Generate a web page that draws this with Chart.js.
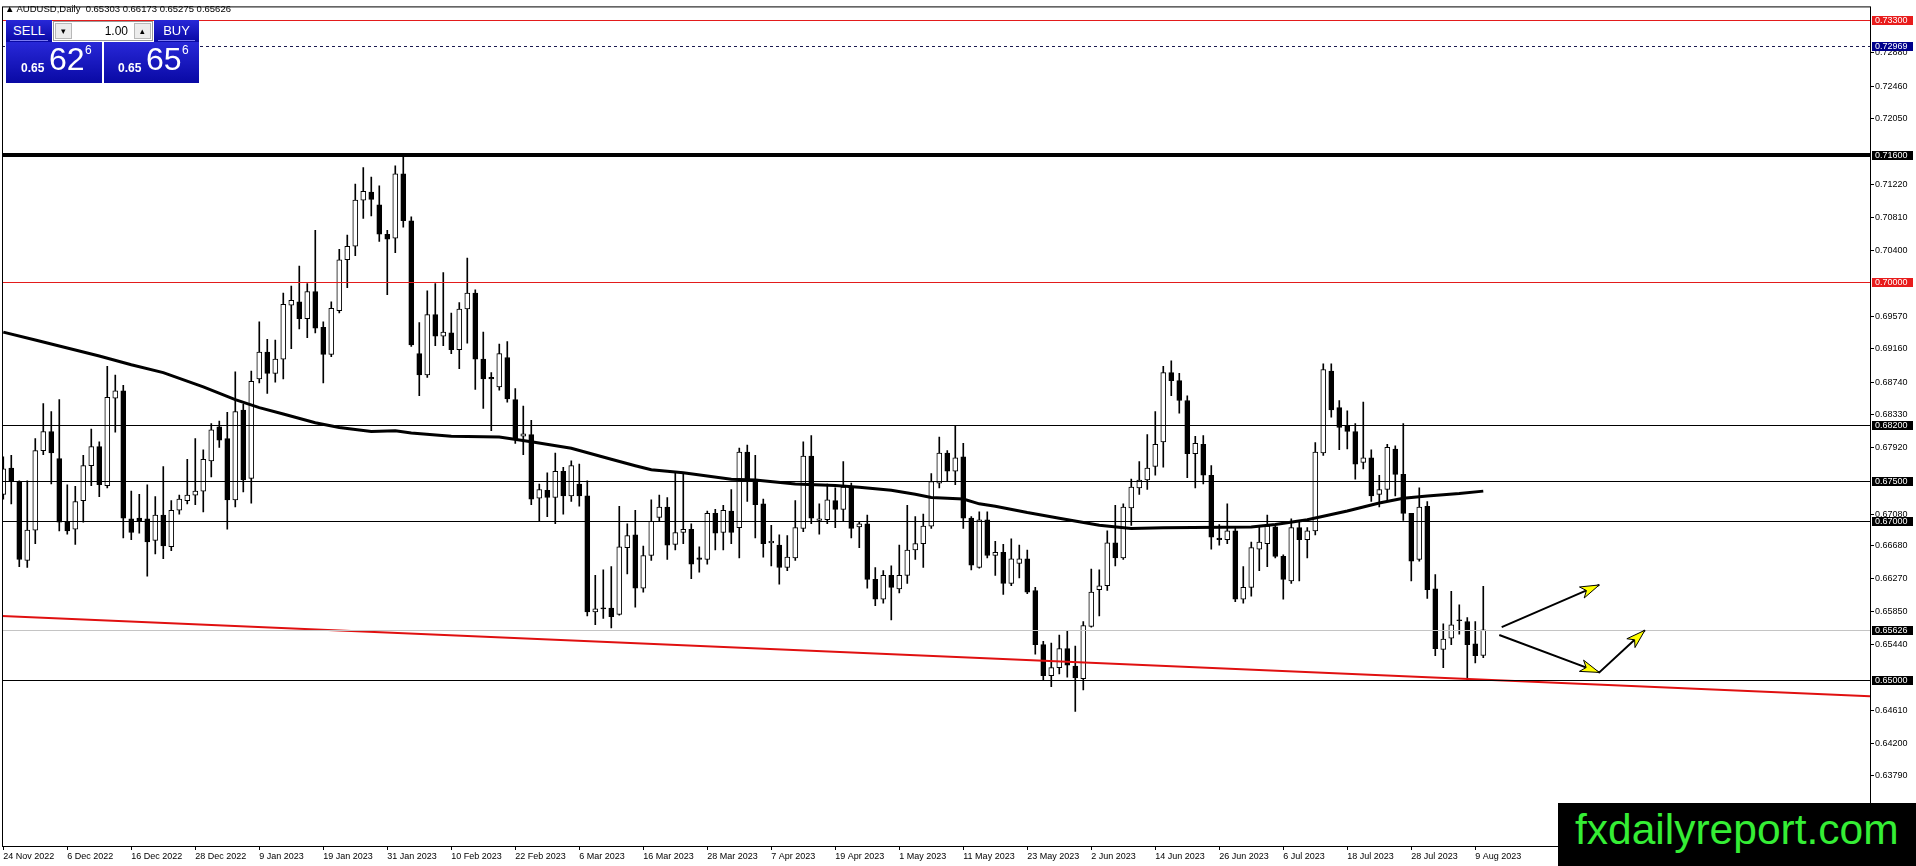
<!DOCTYPE html>
<html>
<head>
<meta charset="utf-8">
<title>AUDUSD Daily</title>
<script src="https://cdn.jsdelivr.net/npm/chart.js@4.4.0/dist/chart.umd.min.js"></script>
<style>
  html, body { margin: 0; padding: 0; background: #fff; overflow: hidden; }
  #wrap { position: relative; width: 1916px; height: 866px; font-family: 'Liberation Sans', Arial, sans-serif; }
  #c { position: absolute; left: 0; top: 0; }
  #title { position: absolute; left: 5px; top: 4px; font-size: 9.5px; line-height: 10px; white-space: pre; color: #000; }
  .blue { position: absolute; background: linear-gradient(#2828d8, #0909a4); color: #fff; }
  .btn { top: 20px; height: 22px; font-size: 13px; line-height: 21px; text-align: center; }
  .btn::after { content: ''; position: absolute; left: 4px; right: 4px; bottom: 1px; height: 1px; background: #7a7af2; }
  #lot { position: absolute; left: 53px; top: 21px; width: 100px; height: 20px; background: #fff; border: 1px solid #9a9a9a; box-sizing: border-box; }
  .arr { position: absolute; top: 1px; width: 17px; height: 16px; background: #ececec; border: 1px solid #b8b8b8; box-sizing: border-box; font-size: 9px; line-height: 14px; text-align: center; color: #000; }
  #lotv { position: absolute; right: 24px; top: 2px; font-size: 12px; line-height: 14px; color: #000; }
  .pbox { top: 42px; height: 41px; }
  .pbox span { position: absolute; white-space: pre; line-height: 1; }
  .s { font-weight: bold; font-size: 12px; top: 20px; }
  .b { font-size: 32px; top: 1px; }
  .t { font-size: 12px; top: 2px; }
  #mark { position: absolute; left: 1558px; top: 803px; width: 358px; height: 63px; background: #000; }
  #mark span { position: absolute; left: 17px; top: 6px; font-size: 42.5px; line-height: 1; color: #35ee35; white-space: pre; }
</style>
</head>
<body>
<div id="wrap">
  <canvas id="c" width="1916" height="866"></canvas>
  <div id="title">▲ AUDUSD,Daily  0.65303 0.66173 0.65275 0.65626</div>
  <div class="blue btn" style="left:6px;width:46px">SELL</div>
  <div id="lot"><div class="arr" style="left:1px">▾</div><span id="lotv">1.00</span><div class="arr" style="right:1px">▴</div></div>
  <div class="blue btn" style="left:154px;width:45px">BUY</div>
  <div class="blue pbox" style="left:6px;width:96px"><span class="s" style="left:15px">0.65</span><span class="b" style="left:43px">62</span><span class="t" style="left:79px">6</span></div>
  <div class="blue pbox" style="left:104px;width:95px"><span class="s" style="left:14px">0.65</span><span class="b" style="left:42px">65</span><span class="t" style="left:78px">6</span></div>
  <div id="mark"><span>fxdailyreport.com</span></div>
</div>
<script>
// velas diarias AUDUSD, barra 0 = 24 Nov 2022
const opens = [
  .6733,.6766,.6748,.6650,.6688,.6788,.6812,.6778,.6698,.6689,
  .6725,.6769,.6793,.6744,.6854,.6863,.6702,.6703,.6702,.6675,
  .6707,.6667,.6713,.6725,.6732,.6737,.6775,.6818,.6803,.6726,
  .6839,.6753,.6878,.6912,.6885,.6903,.6971,.6975,.6954,.6988,
  .6943,.6909,.6964,.7028,.7045,.7103,.7113,.7097,.7060,.7055,
  .7136,.7077,.6910,.6883,.6959,.6932,.6936,.6915,.6966,.6986,
  .6903,.6880,.6868,.6905,.6852,.6806,.6808,.6728,.6738,.6729,
  .6762,.6731,.6746,.6731,.6585,.6590,.6590,.6582,.6666,.6682,
  .6615,.6656,.6704,.6717,.6670,.6685,.6689,.6653,.6651,.6709,
  .6685,.6712,.6691,.6786,.6752,.6721,.6672,.6669,.6641,.6653,
  .6690,.6781,.6700,.6701,.6725,.6714,.6742,.6692,.6696,.6626,
  .6601,.6631,.6614,.6631,.6663,.6671,.6693,.6747,.6785,.6762,
  .6780,.6703,.6641,.6701,.6656,.6660,.6621,.6646,.6652,.6612,
  .6544,.6505,.6515,.6539,.6517,.6501,.6567,.6613,.6618,.6672,
  .6653,.6716,.6741,.6751,.6768,.6799,.6886,.6876,.6851,.6784,
  .6796,.6757,.6678,.6676,.6687,.6601,.6616,.6664,.6671,.6692,
  .6655,.6624,.6691,.6676,.6687,.6785,.6888,.6842,.6819,.6812,
  .6773,.6779,.6733,.6739,.6790,.6758,.6709,.6651,.6718,.6614,
  .6538,.6552,.6575,.6573,.6545,.65303
];
const highs = [
  .6780,.6782,.6750,.6750,.6803,.6847,.6837,.6852,.6745,.6743,
  .6782,.6815,.6799,.6894,.6883,.6870,.6737,.6733,.6745,.6730,
  .6768,.6725,.6732,.6777,.6803,.6789,.6822,.6825,.6836,.6887,
  .6846,.6888,.6950,.6928,.6927,.6986,.6995,.7020,.6998,.7065,
  .6950,.6975,.7041,.7059,.7123,.7144,.7132,.7121,.7065,.7146,
  .7158,.7082,.6949,.6989,.6998,.7012,.6961,.6974,.7030,.6990,
  .6937,.6886,.6922,.6925,.6866,.6844,.6826,.6746,.6760,.6785,
  .6767,.6775,.6771,.6750,.6631,.6638,.6642,.6718,.6696,.6713,
  .6668,.6726,.6732,.6729,.6760,.6759,.6696,.6667,.6712,.6714,
  .6719,.6739,.6791,.6795,.6782,.6727,.6694,.6682,.6681,.6725,
  .6799,.6807,.6721,.6746,.6741,.6774,.6747,.6698,.6707,.6641,
  .6637,.6643,.6669,.6719,.6705,.6708,.6759,.6805,.6788,.6819,
  .6797,.6705,.6711,.6711,.6674,.6670,.6677,.6669,.6663,.6616,
  .6548,.6546,.6556,.6561,.6542,.6573,.6639,.6638,.6687,.6719,
  .6721,.6752,.6774,.6808,.6837,.6894,.6901,.6885,.6857,.6806,
  .6807,.6769,.6695,.6721,.6691,.6642,.6673,.6692,.6707,.6693,
  .6657,.6702,.6699,.6691,.6798,.6897,.6897,.6851,.6838,.6822,
  .6849,.6789,.6757,.6796,.6794,.6822,.6709,.6741,.6724,.6632,
  .6570,.6611,.6594,.6578,.6573,.66173
];
const lows = [
  .6727,.6721,.6642,.6641,.6671,.6783,.6746,.6687,.6683,.6670,
  .6698,.6744,.6730,.6741,.6811,.6678,.6676,.6684,.6630,.6658,
  .6652,.6662,.6708,.6721,.6720,.6711,.6755,.6792,.6689,.6717,
  .6736,.6722,.6873,.6860,.6874,.6878,.6916,.6941,.6930,.6936,
  .6873,.6906,.6961,.6993,.7033,.7080,.7083,.7051,.6984,.7037,
  .7069,.6919,.6857,.6880,.6920,.6920,.6910,.6891,.6923,.6865,
  .6841,.6813,.6864,.6849,.6797,.6783,.6720,.6699,.6705,.6696,
  .6708,.6724,.6718,.6580,.6569,.6577,.6565,.6581,.6633,.6591,
  .6610,.6650,.6699,.6651,.6663,.6671,.6627,.6635,.6645,.6663,
  .6663,.6671,.6653,.6724,.6678,.6654,.6643,.6620,.6637,.6650,
  .6686,.6696,.6683,.6696,.6691,.6699,.6678,.6666,.6615,.6593,
  .6596,.6575,.6609,.6621,.6651,.6641,.6690,.6741,.6749,.6745,
  .6690,.6638,.6640,.6653,.6631,.6607,.6618,.6628,.6608,.6532,
  .6500,.6491,.6507,.6503,.6460,.6487,.6566,.6580,.6612,.6643,
  .6651,.6694,.6733,.6739,.6757,.6767,.6857,.6835,.6754,.6741,
  .6746,.6664,.6669,.6671,.6598,.6596,.6605,.6637,.6642,.6653,
  .6601,.6621,.6624,.6653,.6682,.6782,.6830,.6789,.6790,.6752,
  .6765,.6724,.6717,.6726,.6731,.6700,.6624,.6649,.6602,.6530,
  .6515,.6544,.6557,.6499,.6521,.65275
];
const closes = [
  .6765,.6750,.6651,.6688,.6788,.6812,.6785,.6698,.6687,.6724,
  .6769,.6793,.6745,.6855,.6863,.6703,.6685,.6699,.6673,.6707,
  .6668,.6713,.6727,.6732,.6737,.6777,.6814,.6801,.6726,.6837,
  .6751,.6875,.6912,.6885,.6903,.6972,.6977,.6954,.6988,.6942,
  .6909,.6967,.7028,.7045,.7103,.7114,.7104,.7060,.7054,.7136,
  .7077,.6921,.6883,.6959,.6932,.6937,.6915,.6966,.6986,.6903,
  .6878,.6878,.6910,.6853,.6803,.6809,.6727,.6739,.6729,.6762,
  .6731,.6769,.6731,.6585,.6589,.6589,.6579,.6667,.6681,.6615,
  .6656,.6699,.6717,.6669,.6685,.6689,.6645,.6651,.6709,.6684,
  .6713,.6685,.6786,.6749,.6720,.6671,.6674,.6641,.6654,.6691,
  .6781,.6703,.6702,.6726,.6714,.6742,.6690,.6696,.6626,.6601,
  .6631,.6616,.6631,.6663,.6671,.6693,.6749,.6785,.6762,.6779,
  .6703,.6644,.6701,.6656,.6660,.6621,.6652,.6652,.6610,.6544,
  .6505,.6515,.6539,.6518,.6502,.6568,.6610,.6618,.6672,.6653,
  .6717,.6742,.6751,.6766,.6796,.6886,.6876,.6851,.6784,.6797,
  .6757,.6679,.6676,.6687,.6601,.6616,.6666,.6673,.6693,.6655,
  .6626,.6691,.6676,.6687,.6786,.6890,.6839,.6817,.6812,.6771,
  .6779,.6731,.6739,.6792,.6758,.6709,.6649,.6717,.6613,.6539,
  .6551,.6569,.6574,.6544,.6530,.65626
];

// media movil
const maBars = [0,4,8,12,16,20,25,29,32,35,39,42,46,49,51,56,62,66,71,76,79,81,85,91,94,
  99,104,107,111,114,116,120,122,124,128,132,137,141,145,156,159,163,168,172,175,178,182,185];
const maVals = [.6937,.6927,.6917,.6907,.6896,.6886,.6868,.6852,.6842,.6834,.6823,.6817,.6812,.6813,.6810,.6806,.6805,.6799,.6791,.6777,.6769,.6764,.6760,.6752,.6751,
  .6746,.6744,.6742,.6738,.6733,.6729,.6727,.6721,.6718,.6710,.6703,.6694,.6690,.6691,.6692,.6695,.6701,.6712,.6722,.6728,.6731,.6734,.6737];

// linea de tendencia roja
const trendBars = [-0.16, 233.34];
const trendVals = [0.65801, 0.64789];

// niveles horizontales
const levelPrices = [0.73300, 0.72969, 0.71600, 0.70000, 0.68200, 0.67500, 0.67000, 0.65626, 0.65000];

// flechas
const arrowUp = [[187.3, 0.6566], [199.5, 0.6619]];
const arrowDown = [[187.0, 0.6556], [199.5, 0.6509], [205.2, 0.6562]];

// eje de precios y fechas
const priceTicks = [0.72880,0.72460,0.72050,0.71220,0.70810,0.70400,0.69570,0.69160,0.68740,0.68330,
  0.67920,0.67080,0.66680,0.66270,0.65850,0.65440,0.64610,0.64200,0.63790];
const dateBars = [0,8,16,24,32,40,48,56,64,72,80,88,96,104,112,120,128,136,144,152,160,168,176,184];
const dateLabels = ['24 Nov 2022','6 Dec 2022','16 Dec 2022','28 Dec 2022','9 Jan 2023','19 Jan 2023',
  '31 Jan 2023','10 Feb 2023','22 Feb 2023','6 Mar 2023','16 Mar 2023','28 Mar 2023','7 Apr 2023',
  '19 Apr 2023','1 May 2023','11 May 2023','23 May 2023','2 Jun 2023','14 Jun 2023','26 Jun 2023',
  '6 Jul 2023','18 Jul 2023','28 Jul 2023','9 Aug 2023'];

const levelStyle = [
  {color:'#e31b1b', width:1, dash:[], box:'#e81c1c'},
  {color:'#1a1a50', width:1, dash:[3,3], box:'#00008c'},
  {color:'#000', width:4, dash:[], box:'#000'},
  {color:'#e31b1b', width:1, dash:[], box:'#e81c1c'},
  {color:'#000', width:1, dash:[], box:'#000'},
  {color:'#000', width:1, dash:[], box:'#000'},
  {color:'#000', width:1, dash:[], box:'#000'},
  {color:'#c4c4c4', width:1, dash:[], box:'#000'},
  {color:'#000', width:1, dash:[], box:'#000'}
];

Chart.defaults.font.family = "'Liberation Sans', Arial, sans-serif";

const bull = opens.map((o, i) => closes[i] >= o);

function drawArrow(ctx, x, y, pts) {
  const p = pts.map(q => [x.getPixelForValue(q[0]), y.getPixelForValue(q[1])]);
  ctx.strokeStyle = '#000';
  ctx.lineWidth = 2;
  ctx.setLineDash([]);
  ctx.beginPath();
  ctx.moveTo(p[0][0], p[0][1]);
  for (let k = 1; k < p.length; k++) ctx.lineTo(p[k][0], p[k][1]);
  ctx.stroke();
  // punta amarilla en cada tramo
  for (let k = 1; k < p.length; k++) {
    const [x0, y0] = p[k - 1], [x1, y1] = p[k];
    const a = Math.atan2(y1 - y0, x1 - x0);
    const len = 19, half = 6;
    const bx = x1 - Math.cos(a) * len, by = y1 - Math.sin(a) * len;
    ctx.beginPath();
    ctx.moveTo(x1, y1);
    ctx.lineTo(bx + Math.sin(a) * half, by - Math.cos(a) * half);
    ctx.lineTo(bx + Math.cos(a) * 5, by + Math.sin(a) * 5);
    ctx.lineTo(bx - Math.sin(a) * half, by + Math.cos(a) * half);
    ctx.closePath();
    ctx.fillStyle = '#ffff00';
    ctx.fill();
    ctx.lineWidth = 1;
    ctx.stroke();
    ctx.lineWidth = 2;
  }
}

const overlay = {
  id: 'overlay',
  afterDatasetsDraw(chart) {
    const {ctx, chartArea: a, scales: {x, y}} = chart;
    ctx.save();
    ctx.beginPath();
    ctx.rect(a.left, a.top, a.right - a.left, a.bottom - a.top);
    ctx.clip();
    levelPrices.forEach((p, k) => {
      const st = levelStyle[k];
      let py = Math.round(y.getPixelForValue(p));
      if (st.width % 2) py += 0.5;
      ctx.strokeStyle = st.color;
      ctx.lineWidth = st.width;
      ctx.setLineDash(st.dash);
      ctx.beginPath();
      ctx.moveTo(a.left, py);
      ctx.lineTo(a.right, py);
      ctx.stroke();
    });
    drawArrow(ctx, x, y, arrowUp);
    drawArrow(ctx, x, y, arrowDown);
    ctx.restore();
  },
  afterDraw(chart) {
    const {ctx, chartArea: a, scales: {y}} = chart;
    ctx.save();
    ctx.strokeStyle = '#000';
    ctx.lineWidth = 1;
    ctx.setLineDash([]);
    ctx.strokeRect(a.left + 0.5, a.top + 0.5, a.right - a.left, a.bottom - a.top);
    ctx.font = "9px 'Liberation Sans', Arial, sans-serif";
    ctx.textBaseline = 'middle';
    ctx.textAlign = 'left';
    levelPrices.forEach((p, k) => {
      const py = Math.round(y.getPixelForValue(p));
      ctx.fillStyle = levelStyle[k].box;
      ctx.fillRect(a.right + 2, py - 4, 41, 9);
      ctx.fillStyle = '#fff';
      ctx.fillText(p.toFixed(5), a.right + 5, py + 0.5);
    });
    ctx.restore();
  }
};

new Chart(document.getElementById('c').getContext('2d'), {
  type: 'bar',
  data: {
    datasets: [
      {
        label: 'trend',
        type: 'line',
        data: trendBars.map((b, i) => ({x: b, y: trendVals[i]})),
        borderColor: '#e01010',
        borderWidth: 2,
        pointRadius: 0,
        order: 0
      },
      {
        label: 'MA',
        type: 'line',
        data: maBars.map((b, i) => ({x: b, y: maVals[i]})),
        borderColor: '#000',
        borderWidth: 3,
        pointRadius: 0,
        tension: 0,
        order: 1
      },
      {
        label: 'body',
        data: opens.map((o, i) => ({x: i, y: [Math.min(o, closes[i]), Math.max(o, closes[i])]})),
        backgroundColor: bull.map(b => b ? '#fff' : '#000'),
        borderColor: '#000',
        borderWidth: 1,
        borderSkipped: false,
        barThickness: 5,
        minBarLength: 1,
        grouped: false,
        order: 2
      },
      {
        label: 'wick',
        data: lows.map((l, i) => ({x: i, y: [l, highs[i]]})),
        backgroundColor: '#000',
        borderWidth: 0,
        barThickness: 1,
        grouped: false,
        order: 3
      }
    ]
  },
  options: {
    responsive: false,
    animation: false,
    devicePixelRatio: 1,
    layout: {padding: {left: 2, top: 2, right: 0, bottom: 0}},
    plugins: {legend: {display: false}, tooltip: {enabled: false}},
    scales: {
      x: {
        type: 'linear',
        min: -0.16,
        max: 233.34,
        offset: false,
        afterBuildTicks: s => { s.ticks = dateBars.map(v => ({value: v})); },
        afterFit: s => { s.height = 20; },
        grid: {drawOnChartArea: false, offset: false, tickLength: 4, color: '#000'},
        border: {display: false},
        ticks: {
          autoSkip: false, maxRotation: 0, align: 'start', padding: 1,
          color: '#000', font: {size: 9},
          callback: (v, i) => dateLabels[i]
        }
      },
      y: {
        position: 'right',
        min: 0.62907,
        max: 0.73466,
        afterBuildTicks: s => { s.ticks = priceTicks.map(v => ({value: v})); },
        afterFit: s => { s.width = 46; },
        grid: {drawOnChartArea: false, tickLength: 4, color: '#000'},
        border: {display: false},
        ticks: {
          autoSkip: false, padding: 1, color: '#000', font: {size: 9},
          callback: v => v.toFixed(5)
        }
      }
    }
  },
  plugins: [overlay]
});
</script>
</body>
</html>
